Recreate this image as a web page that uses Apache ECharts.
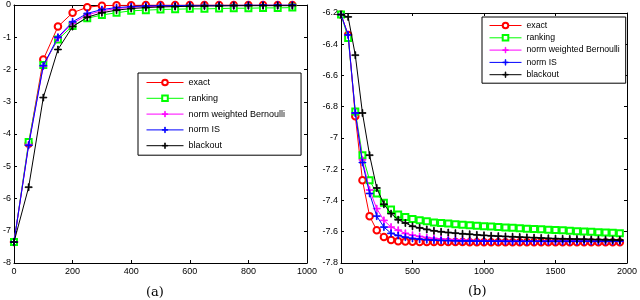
<!DOCTYPE html>
<html>
<head>
<meta charset="utf-8">
<script src="https://cdn.jsdelivr.net/npm/echarts@6/dist/echarts.min.js"></script>
<style>html,body{margin:0;padding:0;background:#fff}#c{width:640px;height:300px}</style>
</head>
<body>
<div id="c"></div>
<script>
// ---------- data ----------
const seriesNames = ['exact', 'ranking', 'norm weighted Bernoulli', 'norm IS', 'blackout'];

// panel (a)
const xA = [0,50,100,150,200,250,300,350,400,450,500,550,600,650,700,750,800,850,900,950];
const exactA    = [-7.35,-4.30,-1.69,-0.67,-0.24,-0.07,-0.02,-0.01,-0.01,0,0,0,0,0,0,0,0,0,0,0];
const rankingA  = [-7.35,-4.25,-1.86,-1.07,-0.65,-0.41,-0.31,-0.24,-0.18,-0.16,-0.14,-0.13,-0.12,-0.12,-0.11,-0.10,-0.10,-0.09,-0.09,-0.08];
const nwbA      = [-7.35,-4.33,-1.90,-1.02,-0.57,-0.31,-0.18,-0.11,-0.07,-0.05,-0.04,-0.03,-0.03,-0.02,-0.02,-0.02,-0.02,-0.01,-0.01,-0.01];
const nisA      = [-7.35,-4.35,-1.88,-1.00,-0.52,-0.26,-0.14,-0.08,-0.05,-0.03,-0.02,-0.02,-0.01,-0.01,-0.01,-0.01,0,0,0,0];
const blackoutA = [-7.35,-5.65,-2.87,-1.38,-0.67,-0.38,-0.24,-0.16,-0.11,-0.08,-0.06,-0.05,-0.04,-0.03,-0.03,-0.02,-0.02,-0.02,-0.02,-0.02];

// panel (b)
const xB = [0,50,100,150,200,250,300,350,400,450,500,550,600,650,700,750,800,850,900,950,
            1000,1050,1100,1150,1200,1250,1300,1350,1400,1450,1500,1550,1600,1650,1700,1750,1800,1850,1900,1950];
const exactB    = [-6.21,-6.34,-6.86,-7.27,-7.50,-7.59,-7.634,-7.652,-7.66,-7.662,-7.664,-7.665,-7.665,-7.666,-7.666,-7.666,-7.666,-7.666,-7.667,-7.667,
                   -7.667,-7.667,-7.667,-7.667,-7.667,-7.667,-7.667,-7.667,-7.667,-7.667,-7.667,-7.667,-7.667,-7.667,-7.667,-7.667,-7.667,-7.667,-7.667,-7.667];
const rankingB  = [-6.21,-6.36,-6.83,-7.11,-7.27,-7.355,-7.415,-7.458,-7.49,-7.505,-7.518,-7.527,-7.533,-7.54,-7.544,-7.547,-7.552,-7.555,-7.558,-7.561,
                   -7.564,-7.566,-7.570,-7.573,-7.575,-7.577,-7.580,-7.582,-7.584,-7.587,-7.589,-7.591,-7.593,-7.596,-7.598,-7.600,-7.603,-7.605,-7.607,-7.610];
const nwbB      = [-6.21,-6.34,-6.84,-7.14,-7.333,-7.452,-7.527,-7.57,-7.59,-7.61,-7.622,-7.63,-7.637,-7.642,-7.646,-7.649,-7.651,-7.653,-7.655,-7.656,
                   -7.657,-7.658,-7.658,-7.659,-7.659,-7.659,-7.660,-7.660,-7.660,-7.660,-7.660,-7.660,-7.660,-7.660,-7.660,-7.660,-7.660,-7.660,-7.660,-7.660];
const nisB      = [-6.21,-6.34,-6.84,-7.157,-7.355,-7.50,-7.57,-7.61,-7.624,-7.635,-7.643,-7.648,-7.651,-7.654,-7.656,-7.657,-7.658,-7.659,-7.659,-7.660,
                   -7.660,-7.660,-7.660,-7.661,-7.661,-7.661,-7.661,-7.661,-7.661,-7.661,-7.661,-7.661,-7.661,-7.661,-7.661,-7.661,-7.661,-7.661,-7.661,-7.661];
const blackoutB = [-6.21,-6.225,-6.47,-6.84,-7.11,-7.32,-7.424,-7.484,-7.523,-7.544,-7.565,-7.575,-7.585,-7.594,-7.600,-7.605,-7.609,-7.613,-7.616,-7.620,
                   -7.623,-7.626,-7.628,-7.630,-7.632,-7.634,-7.636,-7.638,-7.640,-7.642,-7.644,-7.645,-7.646,-7.647,-7.648,-7.649,-7.650,-7.651,-7.652,-7.653];

const xTicksA = [0, 200, 400, 600, 800, 1000];
const yTicksA = [-8, -7, -6, -5, -4, -3, -2, -1, 0];
const xTicksB = [0, 500, 1000, 1500, 2000];
const yTicksB = [-7.8, -7.6, -7.4, -7.2, -7, -6.8, -6.6, -6.4, -6.2];

// ---------- styling ----------
const colors = ['#ff0000', '#00ff00', '#ff00ff', '#0000ff', '#000000'];
const plus = 'path://M2.65,0H3.35V2.65H6V3.35H3.35V6H2.65V3.35H0V2.65H2.65Z';
const symbols = ['emptyCircle', 'emptyRect', plus, plus, plus];
const symSizes = [6.5, 6, 7, 7, 7];
const FONT = '"Liberation Sans", Arial, Helvetica, sans-serif';

const chart = echarts.init(document.getElementById('c'), null, {renderer: 'canvas'});

function fmt(v) { return String(Math.round(v * 10) / 10); }

function axisPair(grid, minV, maxV, interval, isX, showLabels, pos) {
  return {
    type: 'value', gridIndex: grid, position: pos, min: minV, max: maxV, interval: interval,
    axisLine: {show: true, onZero: false, lineStyle: {color: '#000', width: 1}},
    axisTick: {show: true, inside: true, length: 3, lineStyle: {color: '#000', width: 1}},
    splitLine: {show: false},
    axisLabel: {show: showLabels, color: '#000', fontSize: 9, fontFamily: FONT,
                margin: isX ? 4 : 3, formatter: fmt, showMinLabel: true, showMaxLabel: true}
  };
}

const series = [];
const dataA = [exactA, rankingA, nwbA, nisA, blackoutA];
const dataB = [exactB, rankingB, nwbB, nisB, blackoutB];
seriesNames.forEach((n, i) => {
  const common = {
    name: n, type: 'line', symbol: symbols[i], symbolSize: symSizes[i], showAllSymbol: true,
    lineStyle: {color: colors[i], width: 1},
    itemStyle: {color: colors[i], borderColor: colors[i], borderWidth: 0.8},
    emphasis: {disabled: true}, animation: false, z: 2 + i
  };
  series.push(Object.assign({}, common, {xAxisIndex: 0, yAxisIndex: 0,
    data: xA.map((x, k) => [x, dataA[i][k]])}));
  series.push(Object.assign({}, common, {xAxisIndex: 2, yAxisIndex: 2,
    data: xB.map((x, k) => [x, dataB[i][k]])}));
});

const legendCommon = {
  data: seriesNames, orient: 'vertical', backgroundColor: '#fff', borderColor: '#000',
  borderWidth: 1, borderRadius: 0, selectedMode: false,
  lineStyle: {width: 1}, itemStyle: {borderWidth: 0.8}
};

const option = {
  backgroundColor: '#fff',
  animation: false,
  grid: [
    {left: 12, top: 5, width: 295, height: 258, containLabel: false},
    {left: 341, top: 13, width: 288, height: 250, containLabel: false}
  ],
  xAxis: [
    axisPair(0, xTicksA[0], xTicksA[xTicksA.length - 1], xTicksA[1] - xTicksA[0], true, true, 'bottom'),
    axisPair(0, xTicksA[0], xTicksA[xTicksA.length - 1], xTicksA[1] - xTicksA[0], true, false, 'top'),
    axisPair(1, xTicksB[0], xTicksB[xTicksB.length - 1], xTicksB[1] - xTicksB[0], true, true, 'bottom'),
    axisPair(1, xTicksB[0], xTicksB[xTicksB.length - 1], xTicksB[1] - xTicksB[0], true, false, 'top')
  ],
  yAxis: [
    axisPair(0, yTicksA[0], yTicksA[yTicksA.length - 1], 1, false, true, 'left'),
    axisPair(0, yTicksA[0], yTicksA[yTicksA.length - 1], 1, false, false, 'right'),
    axisPair(1, yTicksB[0], yTicksB[yTicksB.length - 1], 0.2, false, true, 'left'),
    axisPair(1, yTicksB[0], yTicksB[yTicksB.length - 1], 0.2, false, false, 'right')
  ],
  legend: [
    Object.assign({}, legendCommon, {
      left: 138, top: 73, itemWidth: 37, itemHeight: 7, itemGap: 6.8,
      padding: [5, 16, 5, 8],
      textStyle: {color: '#000', fontSize: 9, fontFamily: FONT}
    }),
    Object.assign({}, legendCommon, {
      left: 482, top: 17, itemWidth: 32, itemHeight: 7, itemGap: 3.3,
      padding: [4, 6, 4, 7],
      textStyle: {color: '#000', fontSize: 8.7, fontFamily: FONT}
    })
  ],
  graphic: [
    {type: 'text', left: 146, top: 286, style: {text: '(a)', fill: '#000', font: '13px "DejaVu Serif", serif'}},
    {type: 'text', left: 468, top: 285, style: {text: '(b)', fill: '#000', font: '13px "DejaVu Serif", serif'}}
  ],
  series: series
};
chart.setOption(option);
</script>
</body>
</html>
